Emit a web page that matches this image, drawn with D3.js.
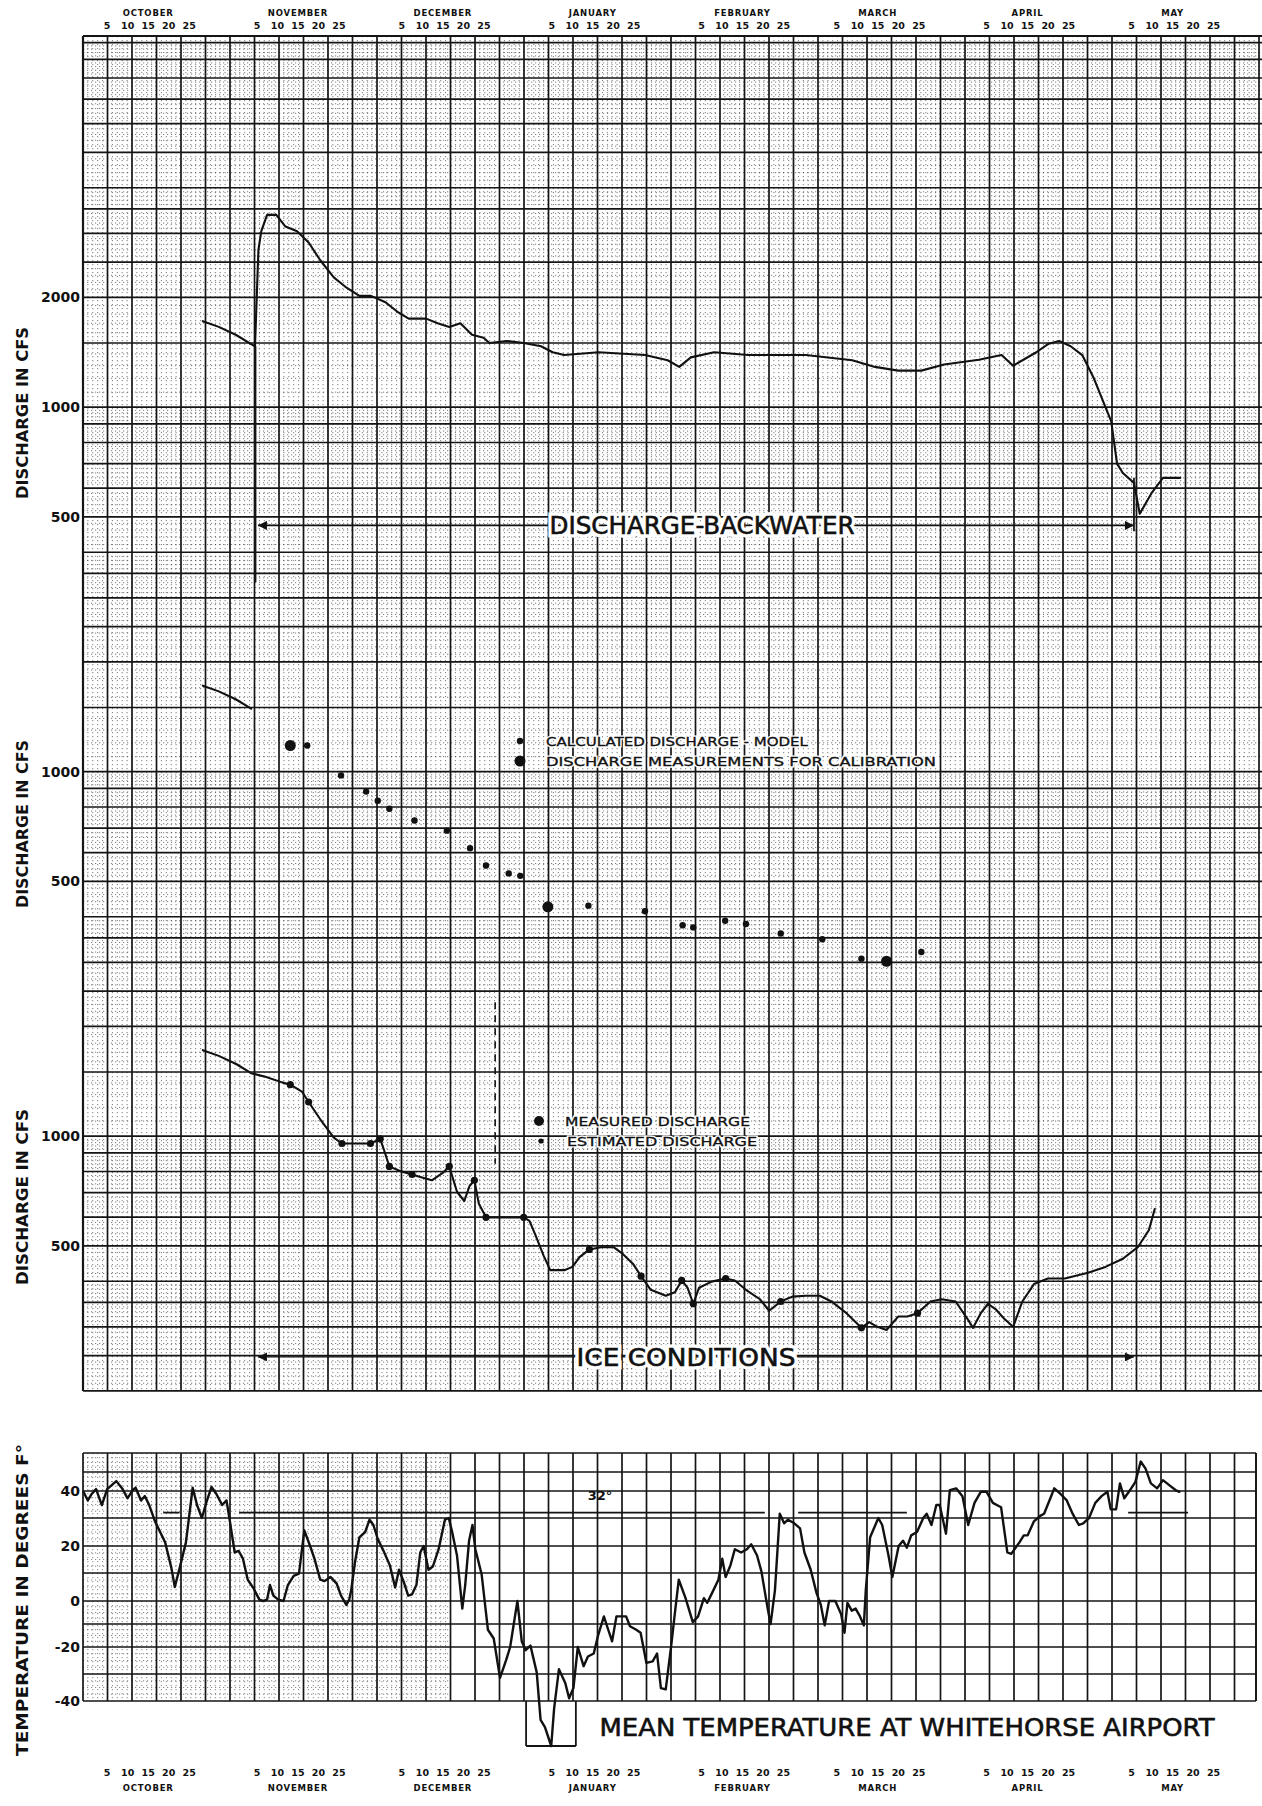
<!DOCTYPE html>
<html>
<head>
<meta charset="utf-8">
<script src="https://cdn.jsdelivr.net/npm/d3@7"></script>
<style>
  body { margin: 0; background: #fff; }
  svg text { font-family: "DejaVu Sans", sans-serif; font-weight: bold; fill: #111; }
</style>
</head>
<body>
<svg id="chart" width="1262" height="1806"></svg>
<script>
// day numbers count from Sep 30 (1 = Oct 1, 32 = Nov 1, 93 = Jan 1 ...)

// flow before freeze-up, shown in all three discharge panels
const preIceCfs = [[24.8, 1722], [28.1, 1661], [31.7, 1578], [34.8, 1489]];

// top panel: discharge affected by backwater
const backwaterCfs = [
  [35.6, 1470], [36.3, 2700], [36.9, 3040], [38.1, 3370], [40.0, 3370], [41.9, 3130], [44.3, 3040],
  [46.7, 2830], [49.1, 2530], [51.9, 2270], [54.3, 2140], [57.2, 2020], [59.6, 2020], [62.6, 1940],
  [65.0, 1830], [67.4, 1750], [71.0, 1750], [73.4, 1700], [75.8, 1660], [78.1, 1700], [80.5, 1580],
  [82.9, 1550], [84.1, 1500], [87.7, 1520], [91.2, 1500], [94.8, 1470], [97.2, 1415], [99.6, 1390],
  [106.7, 1415], [116.3, 1390], [121.0, 1345], [123.4, 1290], [125.8, 1370], [130.6, 1415],
  [137.7, 1390], [149.6, 1390], [159.2, 1345], [163.9, 1290], [168.7, 1260], [173.5, 1260],
  [178.2, 1310], [185.4, 1350], [190.1, 1390], [192.5, 1300], [197.3, 1415], [199.7, 1490],
  [202.0, 1520], [204.4, 1470], [206.8, 1390], [209.2, 1200], [211.6, 1000], [212.8, 914],
  [214.0, 700], [215.2, 660], [217.5, 620], [218.7, 510], [221.1, 580], [223.5, 640], [227.1, 640]
];

// middle panel: calculated discharge (model) and calibration measurements
const modelCfs = [
  [46.4, 1180], [53.4, 977], [58.6, 882], [61.0, 832], [63.4, 791], [68.6, 735], [75.3, 689],
  [80.1, 617], [83.4, 553], [88.1, 526], [90.5, 518], [104.6, 429], [116.3, 414], [124.1, 379],
  [126.3, 374], [132.9, 390], [137.2, 382], [144.4, 360], [153.0, 347], [161.1, 307], [173.5, 320]
];
const calibrationCfs = [[42.9, 1180], [96.2, 426], [166.3, 302]];

// bottom panel: discharge under ice conditions
const iceCfs = [
  [34.8, 1489], [37.6, 1457], [41.2, 1405], [42.9, 1385], [45.3, 1326], [46.7, 1241], [49.1, 1113],
  [51.9, 991], [53.6, 955], [56.7, 955], [59.5, 955], [61.5, 983], [62.4, 908], [63.4, 826],
  [65.7, 802], [68.1, 785], [69.8, 773], [72.2, 757], [74.6, 796], [75.8, 826], [77.4, 704],
  [78.9, 664], [80.0, 730], [81.0, 757], [81.9, 654], [83.4, 599], [87.7, 599], [91.2, 599],
  [92.4, 586], [93.6, 537], [95.3, 471], [96.7, 429], [99.6, 429], [101.3, 438], [102.7, 465],
  [104.8, 489], [107.2, 496], [109.8, 496], [111.5, 478], [113.9, 445], [115.5, 413], [117.5, 379],
  [120.6, 365], [122.5, 373], [123.9, 402], [125.1, 384], [126.3, 347], [127.5, 384], [130.1, 399],
  [133.0, 407], [134.9, 402], [137.2, 379], [140.1, 357], [142.0, 332], [144.4, 352], [146.8, 363],
  [149.6, 365], [152.5, 365], [154.9, 352], [158.0, 327], [161.1, 298], [162.7, 309], [164.4, 300],
  [166.3, 294], [168.7, 320], [170.6, 320], [172.7, 327], [175.4, 352], [177.7, 357], [180.6, 352],
  [183.0, 316], [184.2, 298], [185.8, 327], [187.3, 347], [188.9, 335], [190.6, 316], [192.5, 300],
  [194.4, 352], [196.8, 393], [199.7, 407], [203.2, 407], [208.0, 422], [211.6, 438], [215.2, 461],
  [218.3, 496], [220.6, 553], [221.8, 631]
];
const iceMarkedCfs = [
  [42.9, 1385], [46.7, 1241], [53.6, 955], [59.5, 955], [61.5, 983], [63.4, 826], [68.1, 785],
  [75.8, 826], [81.0, 757], [83.4, 599], [91.2, 599], [104.8, 489], [115.5, 413], [123.9, 402],
  [126.3, 347], [133.0, 407], [144.4, 352], [161.1, 298], [172.7, 327]
];

// mean daily temperature, deg F
const tempF = [
  [0.1, 39.7], [1.0, 36.5], [1.8, 38.9], [2.7, 41.0], [3.9, 34.8], [5.0, 41.0], [6.9, 45.2], [8.2, 41.0],
  [9.2, 37.3], [10.3, 40.5], [10.9, 41.7], [12.0, 36.5], [12.8, 38.1], [13.7, 34.8], [14.9, 28.8],
  [17.0, 21.3], [18.3, 11.8], [19.0, 5.0], [20.0, 11.8], [21.3, 21.3], [22.7, 41.7], [23.6, 34.8],
  [24.6, 30.0], [25.5, 35.6], [26.6, 42.2], [27.6, 38.9], [28.8, 34.8], [29.7, 36.5], [30.4, 28.8],
  [31.4, 17.6], [32.2, 18.2], [33.1, 15.3], [34.1, 7.6], [35.2, 4.8], [36.5, 0.5], [37.3, 0.0],
  [38.1, 0.5], [38.7, 5.7], [39.4, 1.9], [40.4, 0.5], [41.5, 0.0], [42.4, 5.7], [43.6, 9.0],
  [44.7, 9.8], [45.8, 25.6], [47.0, 20.0], [47.9, 15.3], [49.1, 7.6], [50.0, 7.1], [51.2, 8.6],
  [52.5, 6.2], [53.4, 1.9], [54.5, -1.7], [55.1, 0.5], [55.5, 3.8], [56.3, 14.1], [57.2, 23.1],
  [58.4, 25.0], [59.3, 29.4], [60.1, 27.5], [61.0, 22.5], [62.2, 18.2], [63.5, 12.9], [64.6, 4.8],
  [65.4, 11.2], [66.4, 6.7], [67.3, 1.9], [68.1, 2.4], [69.0, 5.7], [69.8, 17.6], [70.5, 20.0],
  [71.5, 11.2], [72.4, 12.4], [73.6, 18.8], [74.9, 29.4], [75.7, 30.0], [76.4, 25.0], [77.4, 16.5],
  [78.5, -3.3], [79.1, 5.7], [79.9, 21.9], [80.6, 27.5], [81.2, 18.8], [82.5, 9.5], [83.8, -12.5],
  [85.0, -16.3], [86.3, -31.4], [87.6, -24.7], [88.4, -20.0], [89.9, 0.0], [90.8, -17.5],
  [91.6, -21.2], [92.6, -19.4], [93.9, -29.4], [94.7, -44.2], [95.6, -45.8], [96.9, -50.0],
  [97.5, -41.7], [98.5, -28.2], [99.8, -33.3], [100.6, -39.0], [101.5, -35.2], [102.4, -20.0],
  [103.6, -27.1], [104.5, -23.5], [105.7, -22.4], [106.6, -15.0], [107.8, -6.7], [108.7, -12.5],
  [109.5, -17.5], [110.4, -6.7], [111.1, -6.7], [112.4, -6.7], [113.2, -11.0], [114.5, -12.5],
  [115.4, -13.8], [116.6, -25.9], [117.9, -25.3], [118.8, -22.4], [119.6, -35.2], [120.6, -35.7],
  [121.7, -20.0], [122.6, -3.3], [123.3, 7.6], [124.7, 1.0], [126.2, -9.2], [127.3, -6.7],
  [128.5, 1.0], [129.2, -0.8], [130.2, 2.9], [131.5, 7.6], [132.3, 15.3], [133.0, 8.6], [134.0, 12.9],
  [134.9, 18.8], [136.2, 17.6], [137.4, 18.8], [138.3, 20.6], [139.5, 16.5], [140.4, 10.6],
  [141.7, -3.3], [142.3, -10.0], [143.2, 3.8], [144.2, 31.6], [145.1, 28.1], [145.9, 29.4],
  [147.2, 28.1], [148.4, 26.3], [149.3, 17.6], [150.6, 11.2], [151.8, 2.9], [152.7, -1.7],
  [153.5, -10.6], [154.4, 0.0], [155.7, 0.0], [156.9, -5.8], [157.6, -13.8], [158.2, -0.8],
  [159.1, -4.2], [159.9, -3.3], [160.8, -6.7], [161.6, -10.6], [162.0, 3.8], [162.9, 23.1],
  [164.6, 30.0], [165.4, 27.5], [166.7, 16.5], [167.5, 8.6], [168.8, 20.0], [169.7, 21.9],
  [170.5, 19.4], [171.4, 23.8], [172.6, 25.0], [173.9, 30.0], [174.6, 31.6], [175.6, 27.5],
  [176.6, 34.8], [177.3, 34.8], [178.6, 24.4], [179.4, 40.5], [180.7, 41.4], [182.0, 38.1],
  [183.2, 27.5], [184.5, 35.6], [185.8, 39.7], [187.0, 39.7], [188.3, 35.6], [190.0, 34.0],
  [191.3, 17.6], [192.1, 17.1], [193.8, 21.3], [194.7, 23.8], [195.5, 23.8], [196.8, 28.8],
  [198.1, 30.8], [198.9, 31.6], [200.2, 37.3], [201.0, 41.4], [202.3, 38.9], [203.6, 36.5],
  [204.8, 31.6], [206.1, 27.5], [207.0, 28.1], [208.2, 30.0], [209.5, 35.6], [210.8, 38.1],
  [212.0, 39.7], [212.7, 33.2], [213.8, 33.2], [214.6, 44.0], [215.5, 37.3], [216.7, 40.5],
  [217.8, 44.8], [218.9, 55.5], [219.9, 51.8], [221.0, 44.0], [222.3, 41.4], [223.5, 45.7],
  [224.8, 43.1], [226.1, 40.5], [226.9, 39.7]
];

// 32 F reference line, drawn in pieces (start day, end day)
const freezingSpans = [[16.6, 20.0], [32.3, 141.1], [148.0, 170.5], [216.3, 228.7]];

const monthNames = ["OCTOBER", "NOVEMBER", "DECEMBER", "JANUARY", "FEBRUARY", "MARCH", "APRIL", "MAY"];
const monthFifth = ["1950-10-05", "1950-11-05", "1950-12-05", "1951-01-05", "1951-02-05", "1951-03-05", "1951-04-05", "1951-05-05"];
const dayTicks = [5, 10, 15, 20, 25];
const cfsTicksTop = [2000, 1000, 500];
const cfsTicks = [1000, 500];
const tempTicks = [40, 20, 0, -20, -40];
const tempLevels = [-50, -40, -30, -20, -10, 0, 10, 20, 30, 40, 50, 60];

const svg = d3.select("#chart");
const seasonStart = new Date(Date.UTC(1950, 8, 30));
const dayToDate = d => new Date(seasonStart.getTime() + d * 864e5);

const x = d3.scaleUtc()
  .domain([seasonStart, new Date(seasonStart.getTime() + 244 * 864e5)])
  .range([83, 1262]);
const xd = d => x(dayToDate(d));

// one log cycle of the paper is ~364.5 px; each panel is read on a different cycle
const y3 = d3.scaleLog().domain([1000, 10000]).range([1136.2, 771.7]);
const y2 = d3.scaleLog().domain([1000, 10000]).range([771.7, 407.2]);
const y1 = d3.scaleLog().domain([1000, 10000]).range([407.2, 42.7]);
// temperature axis, one heavy paper line per 10 degrees
const yT = d3.scaleLinear().domain(tempLevels)
  .range([1746, 1701, 1674, 1647, 1624, 1601, 1573, 1546, 1518, 1491, 1472, 1453]);

// paper columns
const col = d3.scaleLinear().domain([0, 48]).range([83, 1259]);

const grid = svg.append("g");

function hLine(g, yy, x0, x1, w, dash, op) {
  g.append("line").attr("x1", x0).attr("x2", x1).attr("y1", yy).attr("y2", yy)
    .attr("stroke", "#151515").attr("stroke-width", w)
    .attr("stroke-dasharray", dash || null).attr("opacity", op || 1);
}
function vLine(g, xx, y0, y1_, w, dash, op) {
  g.append("line").attr("x1", xx).attr("x2", xx).attr("y1", y0).attr("y2", y1_)
    .attr("stroke", "#151515").attr("stroke-width", w)
    .attr("stroke-dasharray", dash || null).attr("opacity", op || 1);
}

// ---- discharge paper ----
const pTop = 36, pBottom = y3(200), pLeft = 83, pRight = 1262;
const heavyMant = [1, 1.5, 2, 2.5, 3, 3.5, 4, 5, 6, 7, 8, 9];
const minorG = grid.append("g");
const heavyG = grid.append("g");
for (let e = 2; e <= 5; e++) {
  const base = Math.pow(10, e);
  d3.range(1, 10, 0.1).forEach(m => {
    m = Math.round(m * 10) / 10;
    if (m >= 4 && Math.round(m * 10) % 2 === 1) return;
    const v = m * base;
    if (v < 200 || v > 1.01e6) return;
    const isHeavy = heavyMant.some(h => Math.abs(h - m) < 1e-6);
    if (isHeavy) hLine(heavyG, y3(v), pLeft, pRight, 1.7);
    else hLine(minorG, y3(v), pLeft, pRight, 1, "1.2 2.8", 0.55);
  });
}
hLine(heavyG, y3(1e6), pLeft, pRight, 1.7);
hLine(heavyG, pTop, pLeft, pRight, 2);
for (let k = 0; k <= 48; k++) {
  vLine(heavyG, col(k), pTop, pBottom, 1.7);
  if (k < 48) for (let j = 1; j < 5; j++) vLine(minorG, col(k + j / 5), pTop, pBottom, 1, "1.2 2.8", 0.55);
}
vLine(heavyG, pLeft, pTop, pBottom, 2.2);

// ---- temperature paper ----
const tTop = yT(60), tBottom = yT(-40), tRight = 1256;
const tGrid = grid.append("g");
tempLevels.filter(t => t >= -40).forEach(t => hLine(tGrid, yT(t), pLeft, tRight, 1.7));
for (let k = 0; k <= 48; k++) {
  const xx = Math.min(col(k), tRight);
  vLine(tGrid, xx, tTop, tBottom, 1.7);
  if (k < 15) {
    for (let j = 1; j < 5; j++) vLine(tGrid, col(k + j / 5), tTop, tBottom, 1, "1.2 2.8", 0.5);
  }
}
vLine(tGrid, tRight, tTop, tBottom, 1.7);
for (let i = 1; i < tempLevels.length - 1; i++) {
  const a = tempLevels[i], b = tempLevels[i + 1];
  [0.25, 0.5, 0.75].forEach(f => hLine(tGrid, yT(a + (b - a) * f), pLeft, col(15), 1, "1.2 2.8", 0.5));
}
// box for temperatures below -40
const boxL = xd(91.7), boxR = xd(102.0);
vLine(tGrid, boxL, tBottom, yT(-50), 1.8);
vLine(tGrid, boxR, tBottom, yT(-50), 1.8);
hLine(tGrid, yT(-50), boxL, boxR, 1.8);

// ---- data marks ----
const marks = svg.append("g");
function curve(data, yScale, w) {
  marks.append("path")
    .datum(data)
    .attr("fill", "none").attr("stroke", "#111").attr("stroke-width", w)
    .attr("stroke-linejoin", "round").attr("stroke-linecap", "round")
    .attr("d", d3.line().x(p => xd(p[0])).y(p => yScale(p[1])));
}
curve(preIceCfs.concat(backwaterCfs), y1, 2.1);
curve(preIceCfs, y2, 2.1);
curve(preIceCfs.concat(iceCfs.slice(1)), y3, 2.1);
curve(tempF, yT, 2.4);

function dots(data, yScale, r) {
  marks.selectAll(null).data(data).join("circle")
    .attr("cx", p => xd(p[0])).attr("cy", p => yScale(p[1])).attr("r", r)
    .attr("fill", "#111");
}
dots(modelCfs, y2, 3.2);
dots(calibrationCfs, y2, 5.5);
dots(iceMarkedCfs, y3, 3.6);

// 32 F line
freezingSpans.forEach(s => hLine(marks, yT(32), xd(s[0]), xd(s[1]), 1.8));

// start / end of backwater and ice periods
const defs = svg.append("defs");
defs.append("marker").attr("id", "ah").attr("viewBox", "0 0 10 10")
  .attr("refX", 10).attr("refY", 5).attr("markerWidth", 12).attr("markerHeight", 9)
  .attr("markerUnits", "userSpaceOnUse").attr("orient", "auto-start-reverse")
  .append("path").attr("d", "M0,0 L10,5 L0,10 z").attr("fill", "#111");

vLine(marks, xd(35.7), y1(1470), y1(331), 1.8);
vLine(marks, xd(217.5), y1(640), y1(457), 1.8);

function span(yy, d0, d1, w) {
  marks.append("line").attr("x1", xd(d0)).attr("x2", xd(d1)).attr("y1", yy).attr("y2", yy)
    .attr("stroke", "#111").attr("stroke-width", w)
    .attr("marker-start", "url(#ah)").attr("marker-end", "url(#ah)");
}
span(y1(474), 36.2, 217.5, 1.8);
span(y3(248), 36.2, 217.5, 1.2);

// dashed guide in the ice panel
vLine(marks, xd(85.3), y3(2330), y3(840), 1.6, "7 6");

// ---- text layer (on top) ----
const labels = svg.append("g");

monthFifth.forEach((s, i) => {
  const base = x(new Date(s + "T00:00:00Z"));
  dayTicks.forEach((dd, k) => {
    [29, 1776].forEach(yy => labels.append("text")
      .attr("x", base + k * 20.5).attr("y", yy)
      .attr("text-anchor", "middle").attr("font-size", 9.5)
      .text(dd));
  });
  [16, 1791].forEach(yy => labels.append("text")
    .attr("x", base + 41).attr("y", yy)
    .attr("text-anchor", "middle").attr("font-size", 8.5).attr("letter-spacing", 0.8)
    .text(monthNames[i]));
});

function tickLabels(vals, scale) {
  vals.forEach(v => labels.append("text")
    .attr("x", 80).attr("y", scale(v) + 5)
    .attr("text-anchor", "end").attr("font-size", 14)
    .attr("paint-order", "stroke").attr("stroke", "#fff").attr("stroke-width", 2)
    .text(v));
}
tickLabels(cfsTicksTop, y1);
tickLabels(cfsTicks, y2);
tickLabels(cfsTicks, y3);
tickLabels(tempTicks, yT);

function sideTitle(txt, cy, len) {
  labels.append("text")
    .attr("transform", `translate(28,${cy}) rotate(-90)`)
    .attr("text-anchor", "middle").attr("font-size", 16)
    .attr("textLength", len).attr("lengthAdjust", "spacingAndGlyphs")
    .text(txt);
}
sideTitle("DISCHARGE IN CFS", 413, 172);
sideTitle("DISCHARGE IN CFS", 824, 168);
sideTitle("DISCHARGE IN CFS", 1197, 176);
sideTitle("TEMPERATURE IN DEGREES F°", 1600, 312);

labels.append("text").attr("x", 600).attr("y", yT(36.5)).attr("text-anchor", "middle")
  .attr("font-size", 13).text("32°");

// lettering: optional white knock-out behind, then dark text
function letter(txt, x0, y0, len, size, anchor, halo) {
  if (halo) {
    labels.append("text").attr("x", x0).attr("y", y0).attr("text-anchor", anchor)
      .attr("font-size", size).style("font-weight", "normal")
      .attr("textLength", len).attr("lengthAdjust", "spacingAndGlyphs")
      .attr("stroke", "#fff").attr("stroke-width", halo).attr("fill", "#fff")
      .style("fill", "#fff").text(txt);
  }
  labels.append("text").attr("x", x0).attr("y", y0).attr("text-anchor", anchor)
    .attr("font-size", size).style("font-weight", "normal")
    .attr("textLength", len).attr("lengthAdjust", "spacingAndGlyphs")
    .attr("stroke", "#111").attr("stroke-width", size > 20 ? 0.6 : 0.35)
    .text(txt);
}
letter("DISCHARGE-BACKWATER", 702, y1(474) + 9, 305, 24, "middle", 7);
letter("ICE  CONDITIONS", 686, y3(248) + 9, 219, 24, "middle", 7);
letter("MEAN  TEMPERATURE  AT  WHITEHORSE  AIRPORT", 907, 1736, 615, 24.2, "middle", 0);

function legendRow(cx, cy, r, txt, len) {
  labels.append("circle").attr("cx", cx).attr("cy", cy).attr("r", r).attr("fill", "#111");
  letter(txt, cx + 26, cy + 5, len, 13, "start", 3);
}
legendRow(520, 741, 3.2, "CALCULATED  DISCHARGE - MODEL", 262);
legendRow(520, 761, 5.5, "DISCHARGE  MEASUREMENTS  FOR  CALIBRATION", 390);
legendRow(539, 1121, 5, "MEASURED  DISCHARGE", 185);
legendRow(541, 1141, 2.6, "ESTIMATED  DISCHARGE", 190);
</script>
</body>
</html>
